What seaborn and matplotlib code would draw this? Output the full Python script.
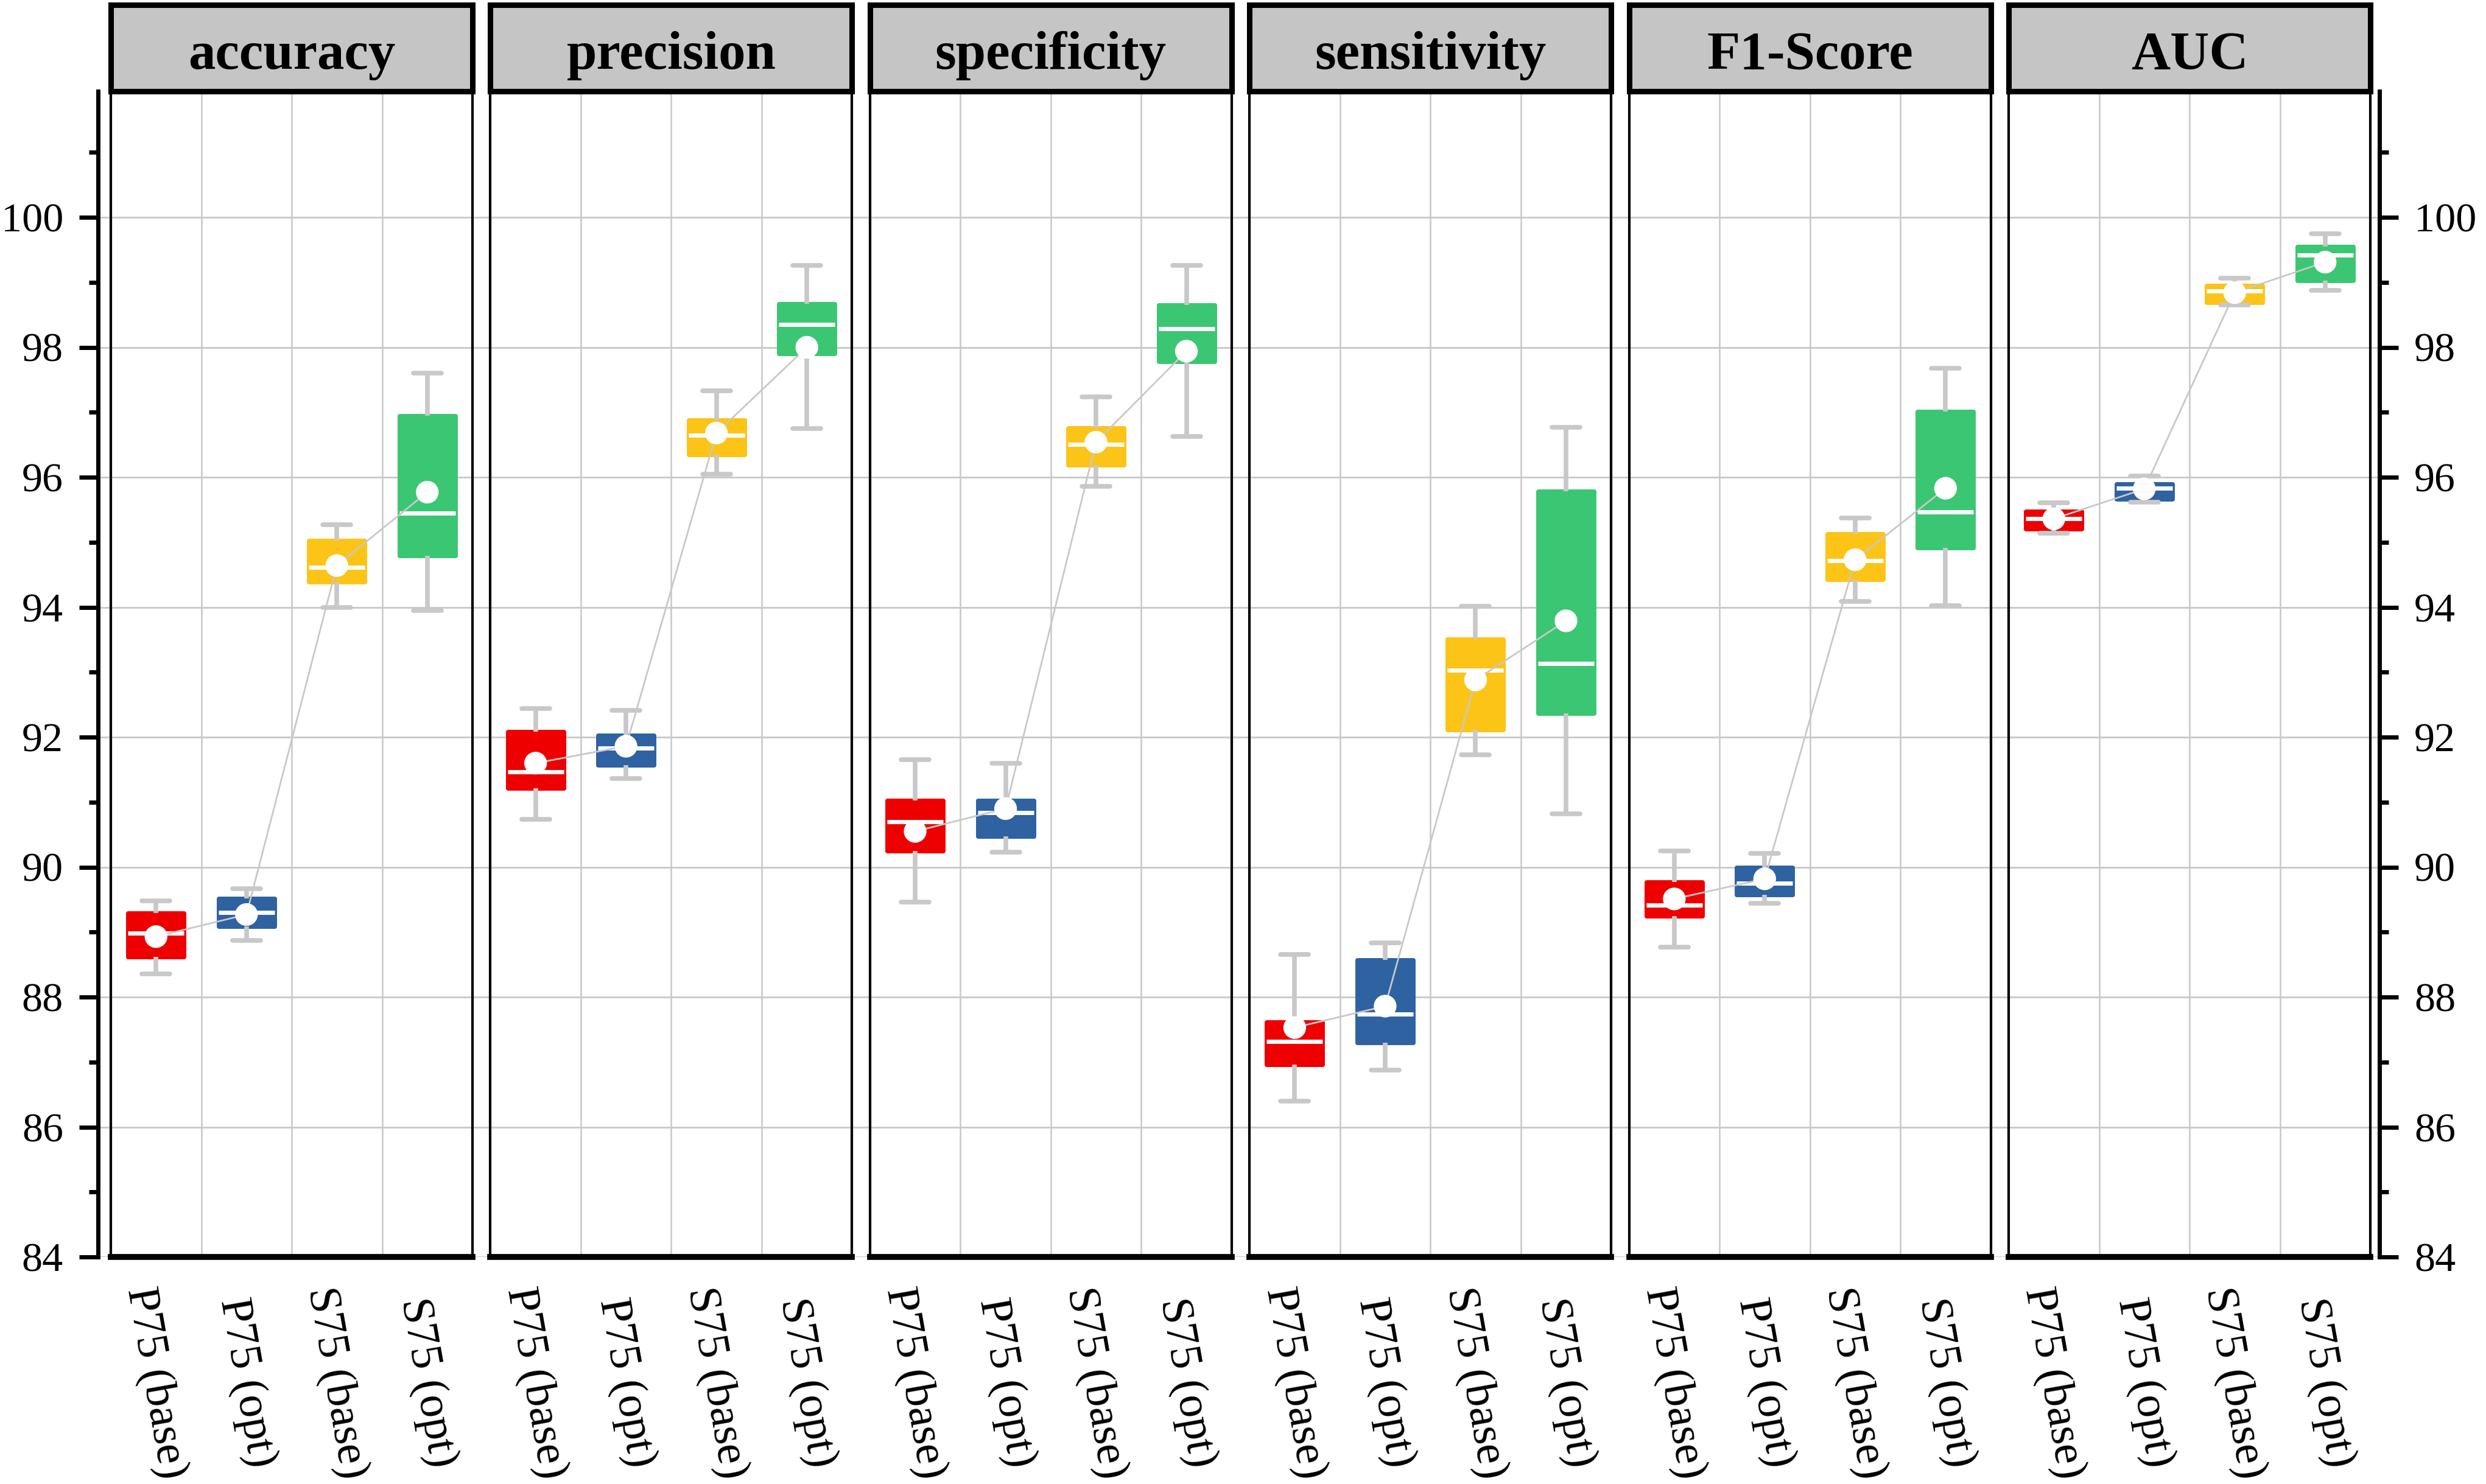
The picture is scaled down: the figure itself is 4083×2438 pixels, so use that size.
import numpy as np
import pandas as pd
import matplotlib.pyplot as plt
import seaborn as sns
from matplotlib.ticker import FixedLocator

sns.set_theme(style='white')
plt.rcParams['font.family'] = ['Liberation Serif', 'DejaVu Serif']

metrics = ['accuracy', 'precision', 'specificity', 'sensitivity', 'F1-Score', 'AUC']
models = ['P75 (base)', 'P75 (opt)', 'S75 (base)', 'S75 (opt)']
colors = ['#EE0000', '#2E62A0', '#FCC417', '#3BC673']

# box summaries, one row per metric, one column per model
whisk_low = [
    [88.36, 88.87, 94.00, 93.95],
    [90.74, 91.36, 96.05, 96.75],
    [89.46, 90.23, 95.86, 96.63],
    [86.40, 86.88, 91.73, 90.82],
    [88.77, 89.44, 94.09, 94.02],
    [95.14, 95.62, 98.65, 98.88],
]
q1 = [
    [88.62, 89.09, 94.39, 94.79],
    [91.21, 91.57, 96.35, 97.90],
    [90.25, 90.47, 96.19, 97.78],
    [86.96, 87.30, 92.11, 92.37],
    [89.25, 89.57, 94.43, 94.91],
    [95.20, 95.66, 98.69, 99.03],
]
median = [
    [88.98, 89.30, 94.61, 95.45],
    [91.47, 91.83, 96.65, 98.35],
    [90.70, 90.84, 96.51, 98.29],
    [87.32, 87.74, 93.03, 93.13],
    [89.41, 89.75, 94.72, 95.47],
    [95.36, 95.83, 98.87, 99.42],
]
q3 = [
    [89.29, 89.52, 95.03, 96.95],
    [92.08, 92.03, 96.88, 98.67],
    [91.03, 91.03, 96.76, 98.65],
    [87.62, 88.57, 93.51, 95.78],
    [89.77, 90.00, 95.13, 97.01],
    [95.48, 95.90, 98.95, 99.55],
]
whisk_high = [
    [89.48, 89.67, 95.27, 97.60],
    [92.44, 92.41, 97.33, 99.26],
    [91.65, 91.60, 97.24, 99.26],
    [88.66, 88.83, 94.01, 96.77],
    [90.25, 90.21, 95.37, 97.68],
    [95.61, 96.02, 99.06, 99.75],
]
means = [
    [88.93, 89.27, 94.64, 95.77],
    [91.60, 91.86, 96.68, 98.00],
    [90.55, 90.90, 96.54, 97.94],
    [87.53, 87.86, 92.88, 93.79],
    [89.51, 89.82, 94.73, 95.83],
    [95.36, 95.82, 98.84, 99.31],
]

# five points per box -> quartiles land exactly on q1/median/q3, whiskers on min/max
rows = []
for i, m in enumerate(metrics):
    for j, mod in enumerate(models):
        for v in (whisk_low[i][j], q1[i][j], median[i][j], q3[i][j], whisk_high[i][j]):
            rows.append({'metric': m, 'model': mod, 'value': v})
df = pd.DataFrame(rows)

W, H = 4083, 2438
fig = plt.figure(figsize=(W / 100, H / 100), dpi=100)


def fx(px):
    return px / W


def fy(px):
    return 1 - px / H


grid_col = '#C8C8C8'
y_top, y_bot = 150, 2065
ymin = 84
ymax = 84 + (y_bot - y_top) / 106.75
ax_h = (y_bot - y_top) / H

# background axis: shared y scale, left/right ticks, horizontal grid across the gaps
bg = fig.add_axes([fx(161), fy(y_bot), fx(3908 - 161), ax_h])
bg.set_ylim(ymin, ymax)
bg.set_xlim(0, 1)
bg.set_xticks([])
bg.yaxis.set_major_locator(FixedLocator(list(range(84, 101, 2))))
bg.yaxis.set_minor_locator(FixedLocator(list(range(85, 102, 2))))
bg.grid(axis='y', which='major', color=grid_col, linewidth=2)
for s in ['top', 'bottom']:
    bg.spines[s].set_visible(False)
for s in ['left', 'right']:
    bg.spines[s].set_linewidth(5)
    bg.spines[s].set_color('black')
bg.tick_params(axis='y', which='both', direction='out', left=True, right=True,
               labelleft=True, labelright=True, width=5, color='black',
               labelcolor='black', labelsize=49, pad=19)
bg.tick_params(axis='y', which='major', length=22)
bg.tick_params(axis='y', which='minor', length=11)

panel_w = 594
gap = 29.4
for i, metric in enumerate(metrics):
    left = 182 + i * (panel_w + gap)
    ax = fig.add_axes([fx(left), fy(y_bot), fx(panel_w), ax_h])
    ax.patch.set_alpha(0)
    sub = df[df['metric'] == metric]
    sns.boxplot(data=sub, x='model', y='value', hue='model', order=models,
                hue_order=models, palette=colors, saturation=1, width=0.62,
                whis=(0, 100), showfliers=False, legend=False, ax=ax,
                medianprops=dict(color='white', linewidth=5),
                whiskerprops=dict(color=grid_col, linewidth=5.5),
                capprops=dict(color=grid_col, linewidth=5.5))
    # rounded corners: edge in the fill colour with round joins
    for p in ax.patches:
        p.set_edgecolor(p.get_facecolor())
        p.set_linewidth(5)
        p.set_joinstyle('round')

    sns.lineplot(x=np.arange(4), y=means[i], color=grid_col, linewidth=2,
                 ax=ax, zorder=4)
    sns.scatterplot(x=np.arange(4), y=means[i], color='white', s=720,
                    edgecolor='none', linewidth=0, ax=ax, zorder=5)

    ax.set_xlim(-0.5, 3.5)
    ax.set_ylim(ymin, ymax)
    ax.set_xlabel('')
    ax.set_ylabel('')
    ax.set_yticks([])
    ax.xaxis.set_minor_locator(FixedLocator([0.5, 1.5, 2.5]))
    ax.grid(axis='x', which='minor', color=grid_col, linewidth=1.8)
    ax.grid(axis='x', which='major', visible=False)
    ax.set_axisbelow(True)
    ax.tick_params(axis='x', which='both', length=0, labelsize=54,
                   labelcolor='black', labelrotation=-80, pad=149)
    for lab in ax.get_xticklabels():
        lab.set_horizontalalignment('center')
        lab.set_verticalalignment('center')
    ax.spines['top'].set_visible(False)
    for s in ['left', 'right']:
        ax.spines[s].set_linewidth(3)
        ax.spines[s].set_color('black')
    ax.spines['bottom'].set_linewidth(7)
    ax.spines['bottom'].set_color('black')

    # facet header
    sax = fig.add_axes([fx(left), fy(y_top), fx(panel_w), (y_top - 8) / H])
    sax.set_facecolor('#C5C5C5')
    sax.set_xticks([])
    sax.set_yticks([])
    for s in sax.spines.values():
        s.set_visible(True)
        s.set_linewidth(6.5)
        s.set_color('black')
    sax.text(0.5, 0.26, metric, ha='center', va='baseline', fontsize=64,
             fontweight='bold', color='black', transform=sax.transAxes)

fig.savefig('out.png', dpi=100, facecolor='white')
